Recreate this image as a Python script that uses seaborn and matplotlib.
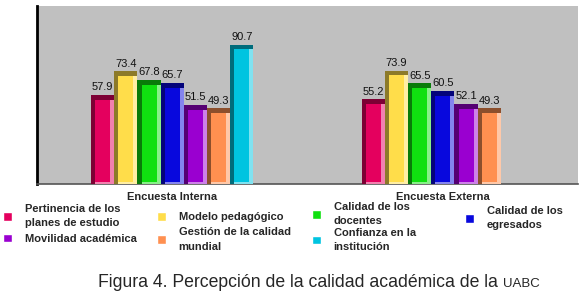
import numpy as np
import pandas as pd
import matplotlib.pyplot as plt
import matplotlib.colors as mcolors
from matplotlib.patches import Rectangle, Patch
import seaborn as sns

# datos
encuestas = ['Encuesta Interna', 'Encuesta Externa']
aspectos = ['Pertinencia de los\nplanes de estudio', 'Modelo pedagógico',
            'Calidad de los\ndocentes', 'Calidad de los\negresados',
            'Movilidad académica', 'Gestión de la calidad\nmundial',
            'Confianza en la\ninstitución']
interna = [57.9, 73.4, 67.8, 65.7, 51.5, 49.3, 90.7]
externa = [55.2, 73.9, 65.5, 60.5, 52.1, 49.3]  # sin dato de confianza
colores = ['#E4005E', '#FFDD4A', '#10E010', '#0808DD', '#9A00D0', '#FF9050', '#00C4E0']

filas = []
for a, v in zip(aspectos, interna):
    filas.append((encuestas[0], a, v))
for a, v in zip(aspectos, externa):
    filas.append((encuestas[1], a, v))
df = pd.DataFrame(filas, columns=['encuesta', 'aspecto', 'valor'])

sns.set_style('white')
plt.rcParams['font.family'] = ['Liberation Sans', 'DejaVu Sans']

fig = plt.figure(figsize=(5.87, 2.96), dpi=100)
ax = fig.add_axes([0.063, 0.378, 0.922, 0.602])
ax.set_facecolor('#C0C0C0')

sns.barplot(data=df, x='encuesta', y='valor', hue='aspecto', order=encuestas,
            hue_order=aspectos, palette=colores, width=0.6, gap=0,
            saturation=1, legend=False, ax=ax, linewidth=0)

# efecto 3D simple a partir de cada barra
for cont, col in zip(ax.containers, colores):
    rgb = np.array(mcolors.to_rgb(col))
    oscuro = rgb * 0.55
    claro = rgb + (1 - rgb) * 0.5
    for p in cont:
        x, w, h = p.get_x(), p.get_width(), p.get_height()
        if np.isnan(h) or h == 0:
            continue
        ax.add_patch(Rectangle((x, 0), w * 0.18, h, color=oscuro, lw=0, zorder=3))
        ax.add_patch(Rectangle((x + w * 0.82, 0), w * 0.18, h, color=claro, lw=0, zorder=3))
        ax.add_patch(Rectangle((x, h - 3), w, 3, color=oscuro, lw=0, zorder=3))
        ax.add_patch(Rectangle((x + w * 0.18, 0), w * 0.64, 1.5, color=claro, lw=0, zorder=3))
    ax.bar_label(cont, fmt='%.1f', padding=2, fontsize=8, color='#111111')

ax.set_ylim(0, 116)
ax.set_xlim(-0.5, 1.5)
ax.set_yticks([])
ax.set_xlabel('')
ax.set_ylabel('')
ax.tick_params(axis='x', length=0, pad=6)
for t in ax.get_xticklabels():
    t.set_fontweight('bold')
    t.set_fontsize(8)
for s in ['top', 'right']:
    ax.spines[s].set_visible(False)
ax.spines['left'].set_color('black')
ax.spines['left'].set_linewidth(2)
ax.spines['bottom'].set_color('#555555')
ax.spines['bottom'].set_linewidth(1.2)

# leyenda: una columna por grupo, como en la figura
W, H = 587, 296
columnas = [[0, 4], [1, 5], [2, 6], [3]]
pos_x = [3, 157, 312, 465]
pos_y = [204, 212, 202, 206]
espacios = [0.5, 0.45, 0.1, 0.3]
for idx, x0, y0, esp in zip(columnas, pos_x, pos_y, espacios):
    hs = [Patch(facecolor=colores[i], label=aspectos[i]) for i in idx]
    leg = fig.legend(handles=hs, loc='upper left', bbox_to_anchor=(x0 / W, 1 - y0 / H),
                     frameon=False, prop={'weight': 'bold', 'size': 8},
                     handlelength=0.85, handleheight=0.8, handletextpad=1.1,
                     labelspacing=esp, borderaxespad=0, borderpad=0)
    for t in leg.get_texts():
        t.set_linespacing(1.55)

t1 = fig.text(98 / W, 0.03, 'Figura 4. Percepción de la calidad académica de la ',
              fontsize=12.7, va='baseline', ha='left')
fig.canvas.draw()
bb = t1.get_window_extent()
fig.text(bb.x1 / fig.bbox.width, 0.03, 'UABC', fontsize=9.5, va='baseline', ha='left')

fig.savefig('out.png', dpi=100, facecolor='white')
